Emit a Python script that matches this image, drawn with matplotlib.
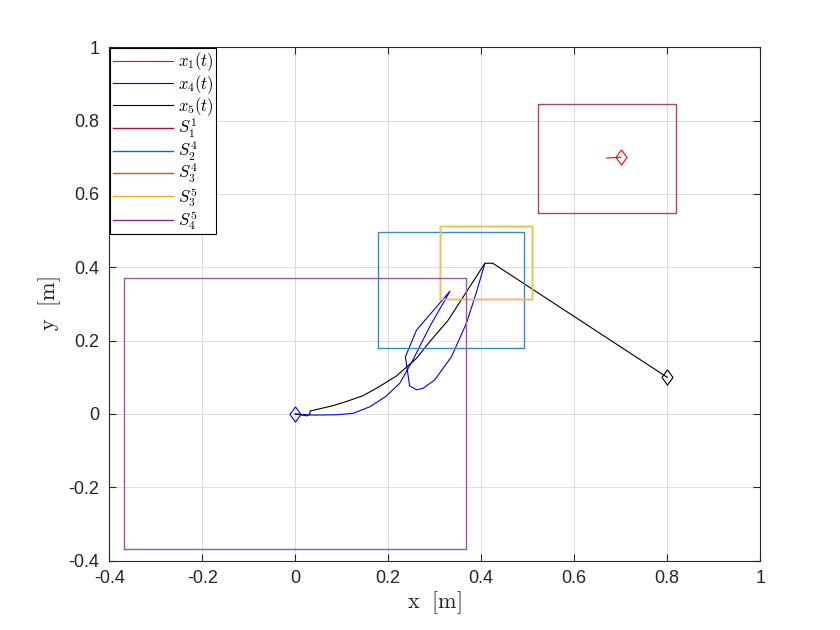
import matplotlib
matplotlib.use("Agg")
import matplotlib.pyplot as plt

plt.rcParams['mathtext.fontset'] = 'cm'
plt.rcParams['font.family'] = ['Liberation Sans', 'DejaVu Sans']

# Trajectories
x1_x = [0.700, 0.670]
x1_y = [0.700, 0.698]

x4_x = [0.000, 0.040, 0.090, 0.125, 0.161, 0.195, 0.225, 0.253, 0.290, 0.333,
        0.261, 0.237, 0.246, 0.261, 0.275, 0.300, 0.336, 0.368, 0.389, 0.408]
x4_y = [0.000, -0.003, -0.002, 0.002, 0.020, 0.048, 0.084, 0.147, 0.240, 0.335,
        0.229, 0.156, 0.077, 0.066, 0.070, 0.093, 0.156, 0.247, 0.329, 0.411]

x5_x = [0.800, 0.425, 0.408, 0.328, 0.290, 0.261, 0.218, 0.180, 0.146, 0.110,
        0.082, 0.032, 0.031, 0.025, 0.000]
x5_y = [0.100, 0.411, 0.411, 0.254, 0.198, 0.152, 0.104, 0.074, 0.050, 0.034,
        0.023, 0.008, -0.002, -0.005, 0.000]

# Safe-set boxes: S_1^1, S_2^4, S_3^4, S_3^5, S_4^5
box_names = [r'$S_1^1$', r'$S_2^4$', r'$S_3^4$', r'$S_3^5$', r'$S_4^5$']
box_xmin = [0.522, 0.177, 0.312, 0.312, -0.368]
box_xmax = [0.818, 0.493, 0.510, 0.510, 0.368]
box_ymin = [0.548, 0.180, 0.314, 0.314, -0.368]
box_ymax = [0.845, 0.495, 0.512, 0.512, 0.370]
box_colors = ['#B54359', '#338ECA', '#E17547', '#F0C14D', '#9859A5']
legend_colors = ['#A2142F', '#0072BD', '#D95319', '#EDB120', '#7E2F8E']

xticks = [-0.4, -0.2, 0, 0.2, 0.4, 0.6, 0.8, 1]
xticklabels = ['-0.4', '-0.2', '0', '0.2', '0.4', '0.6', '0.8', '1']
yticks = [-0.4, -0.2, 0, 0.2, 0.4, 0.6, 0.8, 1]
yticklabels = ['-0.4', '-0.2', '0', '0.2', '0.4', '0.6', '0.8', '1']

diamond = [(0, 1), (0.72, 0), (0, -1), (-0.72, 0), (0, 1)]

fig = plt.figure(figsize=(8.4, 6.3), dpi=100)
ax = fig.add_axes([0.13, 0.11, 0.775, 0.815])

l1, = ax.plot(x1_x, x1_y, color='red', lw=0.8, label=r'$x_1(t)$')
l4, = ax.plot(x4_x, x4_y, color='blue', lw=0.8, label=r'$x_4(t)$')
l5, = ax.plot(x5_x, x5_y, color='black', lw=0.8, label=r'$x_5(t)$')
ax.plot(x1_x[0], x1_y[0], marker=diamond, ms=11, mfc='none', mec='red', mew=0.8, ls='none')
ax.plot(x4_x[0], x4_y[0], marker=diamond, ms=11, mfc='none', mec='blue', mew=0.8, ls='none')
ax.plot(x5_x[0], x5_y[0], marker=diamond, ms=11, mfc='none', mec='black', mew=0.8, ls='none')

handles = [l1, l4, l5]
for name, x0, x1, y0, y1, c, lc in zip(box_names, box_xmin, box_xmax, box_ymin, box_ymax,
                                      box_colors, legend_colors):
    ax.plot([x0, x1, x1, x0, x0], [y0, y0, y1, y1, y0], color=c, lw=1.0)
    h, = ax.plot([], [], color=lc, lw=1.0, label=name)
    handles.append(h)

ax.set_xlim(-0.4, 1)
ax.set_ylim(-0.4, 1)
ax.set_xticks(xticks)
ax.set_xticklabels(xticklabels)
ax.set_yticks(yticks)
ax.set_yticklabels(yticklabels)
ax.tick_params(direction='in', length=5, width=0.8, top=True, right=True,
               labelsize=13, colors='#262626', pad=7)
for s in ax.spines.values():
    s.set_color('#262626')
    s.set_linewidth(0.8)
ax.grid(True, color='#dcdcdc', lw=0.7)
ax.set_axisbelow(True)

ax.set_xlabel(r'$\mathrm{x}\ \ [\mathrm{m}]$', fontsize=16, color='#262626', labelpad=1)
ax.set_ylabel(r'$\mathrm{y}\ \ [\mathrm{m}]$', fontsize=16, color='#262626', labelpad=4)

leg = ax.legend(handles=handles, loc='upper left', bbox_to_anchor=(0, 1),
                borderaxespad=0.05, fancybox=False, framealpha=1, edgecolor='black',
                fontsize=12, handlelength=3.6, handletextpad=0.3, labelspacing=-0.03,
                borderpad=0.15)
leg.get_frame().set_linewidth(0.8)

fig.savefig('out.png', dpi=100)
